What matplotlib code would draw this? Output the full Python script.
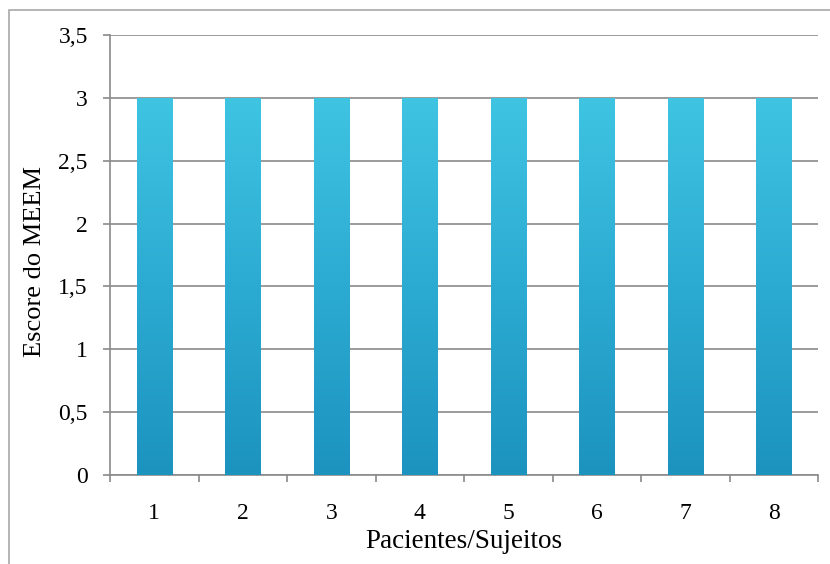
import matplotlib.pyplot as plt
import numpy as np
from matplotlib.colors import LinearSegmentedColormap
from matplotlib.patches import Rectangle

# Escore do MEEM por paciente
pacientes = ['1', '2', '3', '4', '5', '6', '7', '8']
escores = [3, 3, 3, 3, 3, 3, 3, 3]
y_ticks = [0, 0.5, 1, 1.5, 2, 2.5, 3, 3.5]
y_tick_labels = ['0', '0,5', '1', '1,5', '2', '2,5', '3', '3,5']

plt.rcParams['font.family'] = ['Liberation Serif', 'DejaVu Serif']

fig = plt.figure(figsize=(8.3, 5.64), dpi=100)
ax = fig.add_axes([110/830, 1 - 475/564, 708/830, 440/564])

# outer frame around the chart area
fig.patches.append(Rectangle((9/830, -0.1), 1.2, (564 - 10)/564 + 0.1,
                             transform=fig.transFigure, fill=False,
                             edgecolor='#a8a8a8', linewidth=1.2))

x = np.arange(1, len(pacientes) + 1)
bars = ax.bar(x, escores, width=0.4, color='none', edgecolor='none', zorder=3)

# vertical gradient inside each bar: darker at the base, lighter at the top
cmap = LinearSegmentedColormap.from_list('bar', ['#1c93bf', '#2cabd2', '#3fc4e2'])
grad = np.linspace(0, 1, 256).reshape(-1, 1)
for b in bars:
    x0, w, h = b.get_x(), b.get_width(), b.get_height()
    im = ax.imshow(grad, cmap=cmap, origin='lower', aspect='auto',
                   extent=[x0, x0 + w, 0, h], zorder=3)
    im.set_clip_path(b)

ax.set_xlim(0.5, len(pacientes) + 0.5)
ax.set_ylim(0, 3.5)

ax.set_yticks(y_ticks)
ax.set_yticklabels(y_tick_labels)
ax.set_xticks(x)
ax.set_xticklabels(pacientes)
ax.set_xticks(np.arange(0.5, len(pacientes) + 1, 1), minor=True)

grid_color = '#8a8a8a'
ax.yaxis.grid(True, color=grid_color, linewidth=1.2, zorder=1)
ax.set_axisbelow(True)

for s in ['top', 'right']:
    ax.spines[s].set_visible(False)
for s in ['left', 'bottom']:
    ax.spines[s].set_color(grid_color)
    ax.spines[s].set_linewidth(1.2)

ax.tick_params(axis='y', length=5, width=1.2, color=grid_color, pad=11,
               labelsize=17)
ax.tick_params(axis='x', which='major', length=0, pad=20, labelsize=17)
ax.tick_params(axis='x', which='minor', length=5, width=1.2, color=grid_color)

ax.set_xlabel('Pacientes/Sujeitos', fontsize=19.5)
ax.xaxis.set_label_coords(0.5, -0.122)
ax.xaxis.label.set_va('top')
ax.set_ylabel('Escore do MEEM', fontsize=19)
ax.yaxis.set_label_coords(-0.09, 0.485)

fig.savefig('out.png', dpi=100, facecolor='white')
